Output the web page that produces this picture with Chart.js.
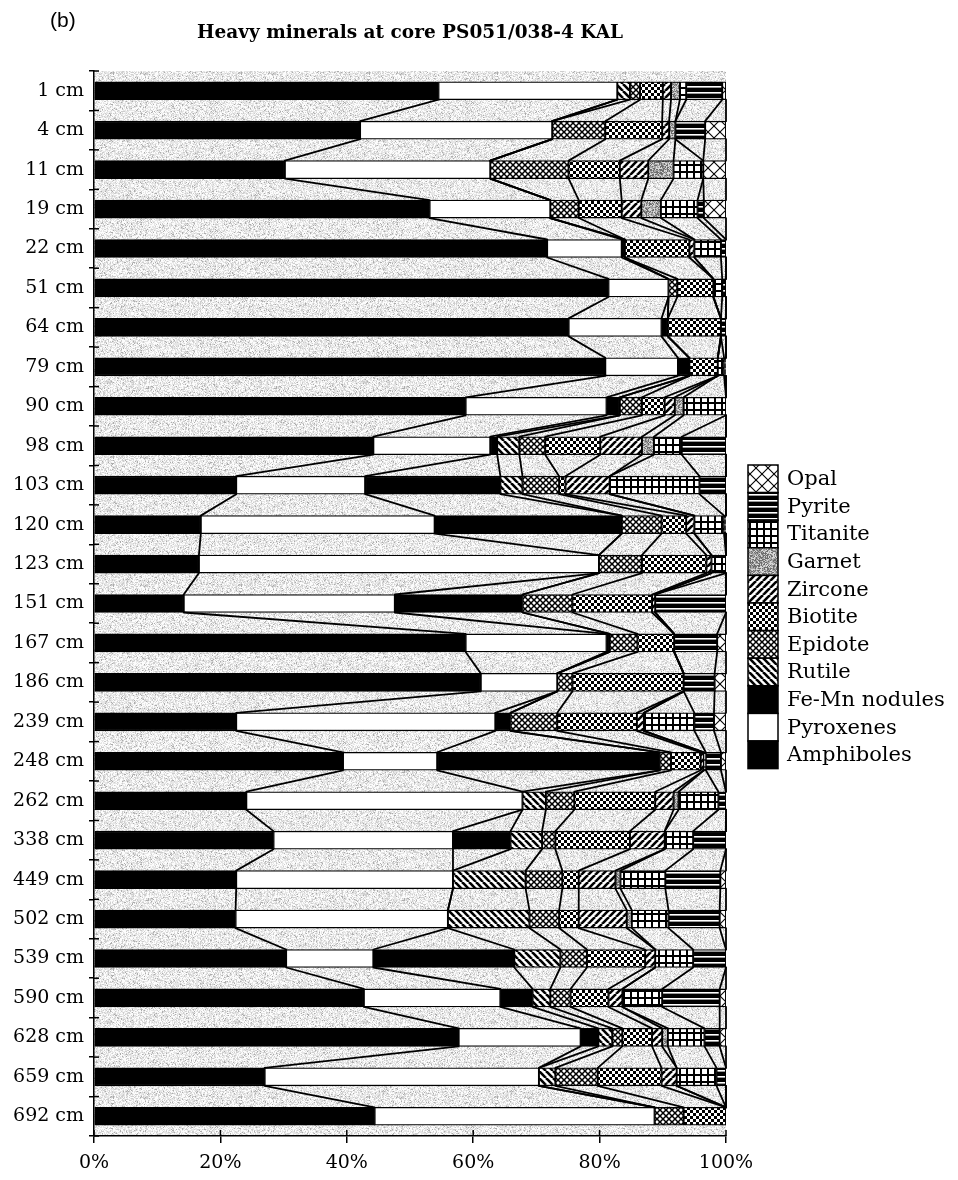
<!DOCTYPE html>
<html>
<head>
<meta charset="utf-8">
<script src="https://cdn.jsdelivr.net/npm/chart.js@4.4.1/dist/chart.umd.min.js"></script>
<style>
  html, body { margin: 0; padding: 0; background: #fff; }
  canvas { display: block; }
</style>
</head>
<body>
<canvas id="chart" width="958" height="1180"></canvas>
<script>
// Sample depths (top to bottom) and mineral percentages per depth
const depths = ['1 cm', '4 cm', '11 cm', '19 cm', '22 cm', '51 cm', '64 cm', '79 cm', '90 cm', '98 cm',
  '103 cm', '120 cm', '123 cm', '151 cm', '167 cm', '186 cm', '239 cm', '248 cm', '262 cm', '338 cm',
  '449 cm', '502 cm', '539 cm', '590 cm', '628 cm', '659 cm', '692 cm'];

const amphiboles = [54.5, 42.1, 30.2, 53.1, 71.7, 81.4, 75.1, 80.9, 58.8, 44.2, 22.5, 16.9, 16.6, 14.2, 58.8, 61.2, 22.5, 39.4, 24.1, 28.4, 22.5, 22.4, 30.4, 42.7, 57.7, 27.0, 44.4];
const pyroxenes  = [28.3, 30.4, 32.5, 19.1, 11.8, 9.5, 14.7, 11.5, 22.3, 18.5, 20.4, 37.0, 63.3, 33.4, 22.3, 12.1, 41.0, 14.9, 43.7, 28.4, 34.3, 33.6, 13.8, 21.6, 19.3, 43.4, 44.3];
const feMn       = [0, 0, 0, 0, 0.5, 0, 1.0, 1.8, 2.1, 1.1, 21.4, 29.6, 0, 20.2, 0.5, 0, 2.4, 35.2, 0, 9.1, 0, 0, 22.3, 5.1, 2.8, 0, 0];
const rutile     = [2.0, 0, 0, 0, 0, 0, 0, 0, 0, 3.5, 3.5, 0, 0, 0, 0, 0, 0, 0, 3.7, 5.0, 11.5, 12.9, 7.3, 2.8, 2.2, 2.6, 0];
const epidote    = [1.6, 8.4, 12.4, 4.5, 0, 1.4, 0, 0, 3.5, 4.1, 5.8, 6.3, 6.8, 7.9, 4.4, 2.4, 7.4, 1.8, 4.5, 2.1, 5.8, 4.7, 4.2, 3.2, 1.6, 6.7, 4.6];
const biotite    = [3.6, 9.0, 8.1, 6.8, 10.2, 5.7, 8.4, 4.5, 3.6, 8.7, 1.0, 3.9, 10.2, 12.6, 5.8, 17.6, 12.6, 4.7, 12.8, 11.8, 2.6, 3.1, 9.2, 6.0, 4.7, 10.1, 6.7];
const zircone    = [1.3, 1.1, 4.5, 3.1, 0.8, 0, 0, 0, 1.6, 6.6, 7.0, 1.3, 0.8, 0.5, 0, 0, 1.1, 0.5, 2.9, 5.5, 5.8, 7.6, 1.6, 2.2, 1.6, 2.4, 0];
const garnet     = [1.4, 1.0, 4.0, 3.1, 0, 0, 0, 0, 1.4, 1.9, 0, 0, 0, 0, 0, 0, 0, 0, 0.8, 0, 0.8, 0.8, 0, 0, 0.9, 0, 0];
const titanite   = [1.0, 0, 4.7, 5.8, 4.2, 1.4, 0, 1.0, 6.7, 4.4, 14.2, 4.7, 2.3, 0, 0, 0, 8.0, 0.3, 6.3, 4.5, 7.1, 5.8, 6.0, 6.3, 5.8, 6.3, 0];
const pyrite     = [5.7, 4.7, 0, 1.0, 0.8, 0.6, 0.8, 0.3, 0, 7.0, 4.2, 0.3, 0, 11.2, 6.8, 4.9, 3.1, 2.4, 1.2, 5.2, 8.7, 8.1, 5.2, 9.1, 2.4, 1.5, 0];
const opal       = [0.6, 3.3, 3.6, 3.5, 0, 0, 0, 0, 0, 0, 0, 0, 0, 0, 1.4, 1.8, 1.9, 0.8, 0, 0, 0.9, 1.0, 0, 1.0, 1.0, 0, 0];

const mineralNames = ['Amphiboles', 'Pyroxenes', 'Fe-Mn nodules', 'Rutile', 'Epidote', 'Biotite',
  'Zircone', 'Garnet', 'Titanite', 'Pyrite', 'Opal'];
const mineralSeries = [amphiboles, pyroxenes, feMn, rutile, epidote, biotite, zircone, garnet, titanite, pyrite, opal];

const xTickValues = [0, 20, 40, 60, 80, 100];

// ---------- fill patterns ----------
function hash(x, y, s) {
  let h = Math.imul(x, 374761393) + Math.imul(y, 668265263) + Math.imul(s, 2246822519);
  h = Math.imul(h ^ (h >>> 13), 1274126177);
  h ^= h >>> 16;
  return (h >>> 0) / 4294967296;
}
function tile(w, h, draw) {
  const c = document.createElement('canvas');
  c.width = w; c.height = h;
  const g = c.getContext('2d');
  g.fillStyle = '#fff';
  g.fillRect(0, 0, w, h);
  draw(g, w, h);
  return g.createPattern(c, 'repeat');
}
function grain(w, h, seed, levels) {
  return tile(w, h, (g) => {
    const img = g.createImageData(w, h);
    for (let y = 0; y < h; y++) for (let x = 0; x < w; x++) {
      const v = hash(x, y, seed);
      let val = levels[levels.length - 1][1];
      for (const [t, c] of levels) { if (v < t) { val = c; break; } }
      const o = (y * w + x) * 4;
      img.data[o] = img.data[o + 1] = img.data[o + 2] = val;
      img.data[o + 3] = 255;
    }
    g.putImageData(img, 0, 0);
  });
}
function diagonal(s, lw, dir) {
  return tile(s, s, (g) => {
    g.strokeStyle = '#000'; g.lineWidth = lw;
    for (let k = -1; k <= 1; k++) {
      g.beginPath();
      if (dir > 0) { g.moveTo(k * s, 0); g.lineTo(k * s + s, s); }
      else { g.moveTo(k * s + s, 0); g.lineTo(k * s, s); }
      g.stroke();
    }
  });
}
function cross(s, lw) {
  return tile(s, s, (g) => {
    g.strokeStyle = '#000'; g.lineWidth = lw;
    for (let k = -1; k <= 1; k++) {
      g.beginPath(); g.moveTo(k * s, 0); g.lineTo(k * s + s, s); g.stroke();
      g.beginPath(); g.moveTo(k * s + s, 0); g.lineTo(k * s, s); g.stroke();
    }
  });
}

const background = grain(128, 128, 7, [[0.36, 252], [0.76, 230], [0.95, 206], [1.01, 172]]);
const fills = [
  '#000',                                            // Amphiboles
  '#fff',                                            // Pyroxenes
  '#000',                                            // Fe-Mn nodules
  diagonal(7, 2.6, 1),                               // Rutile
  cross(6, 1.5),                                     // Epidote
  tile(6, 6, (g) => { g.fillStyle = '#000'; g.fillRect(0, 0, 3, 3); g.fillRect(3, 3, 3, 3); }), // Biotite
  diagonal(7, 2.6, -1),                              // Zircone
  grain(64, 64, 3, [[0.35, 110], [0.7, 165], [1.01, 215]]), // Garnet
  tile(7, 7, (g) => { g.fillStyle = '#000'; g.fillRect(0, 0, 2, 7); g.fillRect(0, 3, 7, 2); }), // Titanite
  tile(4, 6, (g) => { g.fillStyle = '#000'; g.fillRect(0, 0, 4, 6); g.fillStyle = '#fff'; g.fillRect(0, 2, 4, 1.6); }), // Pyrite
  cross(12, 1.1)                                     // Opal
];

// cumulative boundaries of every stacked segment, per depth
const cumulative = mineralSeries.map((_, k) =>
  depths.map((_, i) => mineralSeries.slice(0, k + 1).reduce((a, s) => a + s[i], 0)));

const BAR = 18;

const stipplePlugin = {
  id: 'stipple',
  beforeDraw(chart) {
    const { ctx, chartArea: a } = chart;
    ctx.save();
    ctx.fillStyle = background;
    ctx.fillRect(a.left, a.top, a.right - a.left, a.bottom - a.top);
    ctx.restore();
  }
};

const linkPlugin = {
  id: 'links',
  afterDatasetsDraw(chart) {
    const { ctx } = chart;
    const xs = chart.scales.x, ys = chart.scales.y;
    ctx.save();
    ctx.strokeStyle = '#000';
    ctx.lineWidth = 1.8;
    ctx.lineCap = 'round';
    for (let k = 0; k < cumulative.length; k++) {
      for (let i = 0; i < depths.length - 1; i++) {
        ctx.beginPath();
        ctx.moveTo(xs.getPixelForValue(cumulative[k][i]), ys.getPixelForValue(i) + BAR / 2);
        ctx.lineTo(xs.getPixelForValue(cumulative[k][i + 1]), ys.getPixelForValue(i + 1) - BAR / 2);
        ctx.stroke();
      }
    }
    ctx.restore();
  }
};

const decorPlugin = {
  id: 'decor',
  afterDraw(chart) {
    const { ctx, chartArea: a } = chart;
    const xs = chart.scales.x, ys = chart.scales.y;
    ctx.save();
    ctx.strokeStyle = '#000';
    ctx.lineWidth = 1.5;
    // inner halves of the axis tick marks
    for (let i = 0; i <= depths.length; i++) {
      const y = ys.getPixelForValue(i - 0.5);
      ctx.beginPath(); ctx.moveTo(a.left, y); ctx.lineTo(a.left + 5, y); ctx.stroke();
    }
    for (const v of xTickValues) {
      const x = xs.getPixelForValue(v);
      ctx.beginPath(); ctx.moveTo(x, a.bottom); ctx.lineTo(x, a.bottom - 6); ctx.stroke();
    }
    // panel letter and title
    ctx.fillStyle = '#000';
    ctx.textBaseline = 'middle';
    ctx.textAlign = 'left';
    ctx.font = '21px "Liberation Sans", Arial, sans-serif';
    ctx.fillText('(b)', 50, 21);
    ctx.textAlign = 'center';
    ctx.font = 'bold 18.5px "DejaVu Serif", serif';
    ctx.fillText('Heavy minerals at core PS051/038-4 KAL', (a.left + a.right) / 2, 33);
    // legend column, Opal on top
    const lx = 748, ly = 465, bw = 30, bh = 27.6;
    ctx.textAlign = 'left';
    ctx.font = '21px "DejaVu Serif", serif';
    for (let j = 0; j < mineralNames.length; j++) {
      const k = mineralNames.length - 1 - j;
      const y = ly + j * bh;
      ctx.fillStyle = fills[k];
      ctx.fillRect(lx, y, bw, bh);
      ctx.strokeRect(lx, y, bw, bh);
      ctx.fillStyle = '#000';
      ctx.fillText(mineralNames[k], lx + bw + 9, y + bh / 2 + 1);
    }
    ctx.restore();
  }
};

new Chart(document.getElementById('chart').getContext('2d'), {
  type: 'bar',
  data: {
    labels: depths,
    datasets: mineralSeries.map((s, k) => ({
      label: mineralNames[k],
      data: s.map(v => (v === 0 ? null : v)),
      backgroundColor: fills[k],
      borderColor: '#000',
      borderWidth: 1.3,
      borderSkipped: false,
      barThickness: BAR
    }))
  },
  options: {
    indexAxis: 'y',
    responsive: false,
    animation: false,
    devicePixelRatio: 1,
    layout: { padding: { top: 71, right: 232, left: 0, bottom: 0 } },
    plugins: { legend: { display: false }, tooltip: { enabled: false }, title: { display: false } },
    scales: {
      x: {
        stacked: true, min: 0, max: 100,
        afterFit(s) { s.height = 44; },
        afterBuildTicks(s) { s.ticks = xTickValues.map(v => ({ value: v })); },
        ticks: { callback: v => v + '%', color: '#000', font: { family: 'DejaVu Serif', size: 19 }, padding: 9, maxRotation: 0 },
        grid: { drawOnChartArea: false, tickLength: 7, color: '#000', lineWidth: 1.5 },
        border: { color: '#000', width: 1.5 }
      },
      y: {
        stacked: true,
        afterFit(s) { s.width = 94; },
        ticks: { color: '#000', font: { family: 'DejaVu Serif', size: 19 }, padding: 5, autoSkip: false },
        grid: { offset: true, drawOnChartArea: false, tickLength: 5, color: '#000', lineWidth: 1.5 },
        border: { color: '#000', width: 1.5 }
      }
    }
  },
  plugins: [stipplePlugin, linkPlugin, decorPlugin]
});
</script>
</body>
</html>
